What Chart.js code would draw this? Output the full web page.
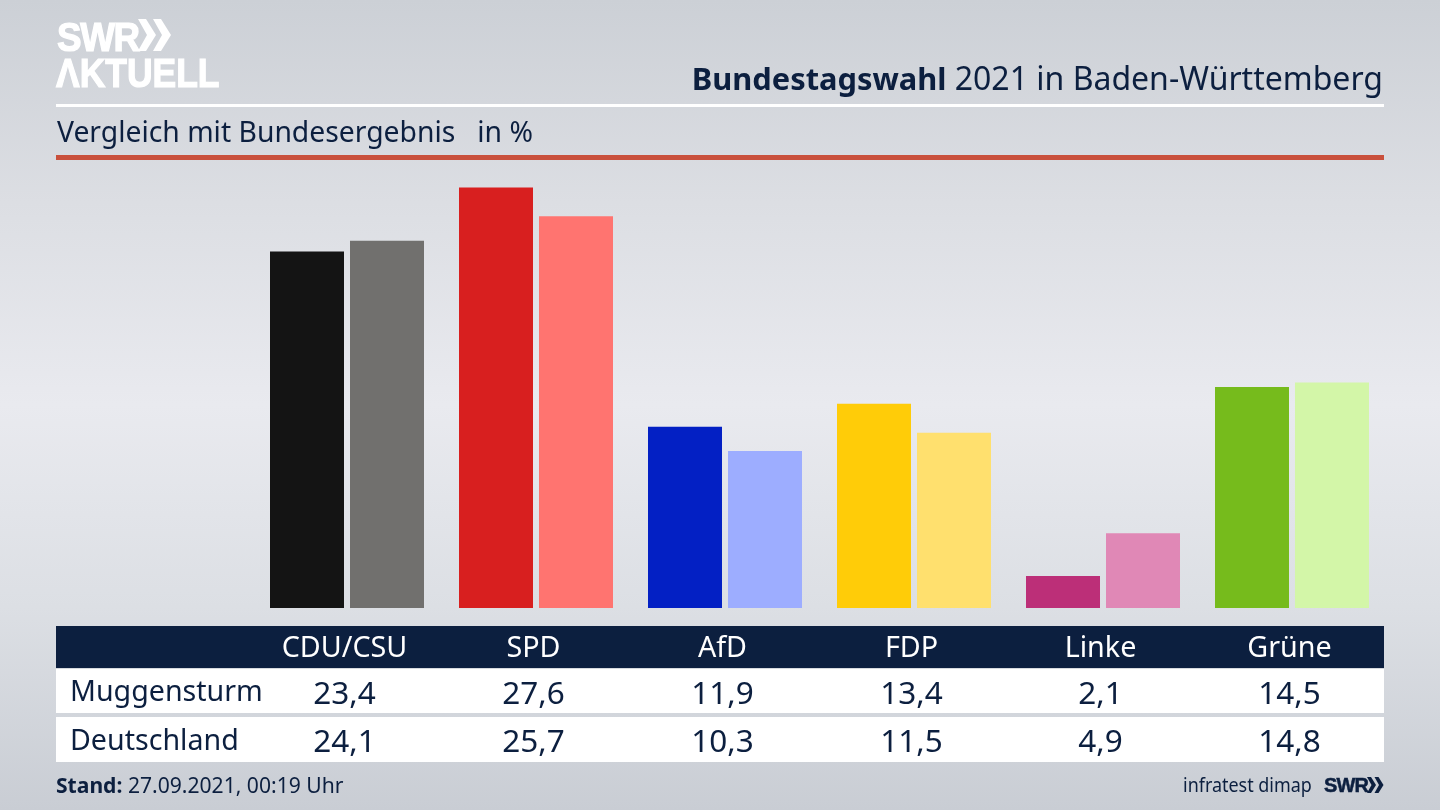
<!DOCTYPE html>
<html lang="de">
<head>
<meta charset="UTF-8">
<title>Bundestagswahl 2021 in Baden-Württemberg</title>
<script src="https://cdn.jsdelivr.net/npm/chart.js"></script>
<style>
  html, body { margin: 0; padding: 0; }
  body {
    width: 1440px; height: 810px; overflow: hidden; position: relative;
    font-family: "Noto Sans", sans-serif; color: #0c1f3f;
    background: linear-gradient(to bottom, #ccd0d6 0%, #dcdee3 25%, #e9eaef 50%, #dcdfe4 75%, #c9cdd4 100%);
  }
  #myChart { position: absolute; left: 0; top: 0; }
  .abs { position: absolute; white-space: nowrap; }
  .logo { color: #fff; font-family: "Liberation Sans", sans-serif; font-weight: bold; line-height: 1; -webkit-text-stroke: 1.2px #fff; transform-origin: left top; }
  #title { right: 57px; top: 57px; font-size: 32px; line-height: 42px; }
  #title b { font-size: 30.8px; }
  #subtitle { left: 57px; top: 112px; font-size: 28.3px; line-height: 38px; }
  #rule1 { left: 56px; top: 104px; width: 1328px; height: 3px; background: #fff; }
  #rule2 { left: 56px; top: 155px; width: 1328px; height: 5px; background: #c9503c; }
  .band { position: absolute; left: 56px; width: 1328px; }
  .cell { position: absolute; transform: translateX(-50%); white-space: nowrap; font-size: 28.7px; }
  .rowname { position: absolute; left: 70px; font-size: 28.6px; white-space: nowrap; }
  #stand { left: 56px; top: 771px; font-size: 21.1px; line-height: 28px; }
  #source { left: 1183px; top: 771px; font-size: 19.5px; line-height: 28px; transform: scaleX(0.92); transform-origin: left top; }
</style>
</head>
<body>
  <canvas id="myChart" width="1440" height="810"></canvas>

  <div class="abs logo" style="left:57px;top:17px;font-size:40px;letter-spacing:-1.5px;transform:scaleX(0.92);">SWR</div>
  <svg class="abs" style="left:138px;top:19px;" width="34" height="33" viewBox="0 0 34 33">
    <polygon fill="#fff" points="0,0 8,0 18,16 8,32 0,32 9,16"/>
    <polygon fill="#fff" points="15,0 23,0 33,16 23,32 15,32 24,16"/>
  </svg>
  <div class="abs logo" style="left:56px;top:53px;font-size:41px;transform:scaleX(0.865);">ΛKTUELL</div>

  <div class="abs" id="title"><b>Bundestagswahl</b> 2021 in Baden-Württemberg</div>
  <div class="abs" id="rule1"></div>
  <div class="abs" id="subtitle">Vergleich mit Bundesergebnis &nbsp; in %</div>
  <div class="abs" id="rule2"></div>

  <div class="band" style="top:626px;height:42px;background:#0c1f3f;"></div>
  <div class="band" style="top:669px;height:44px;background:#fff;"></div>
  <div class="band" style="top:717px;height:45px;background:#fff;"></div>
  <div id="tableText"></div>

  <div class="abs" id="stand"><b>Stand:</b> 27.09.2021, 00:19 Uhr</div>
  <div class="abs" id="source">infratest dimap</div>
  <div class="abs" style="left:1324px;top:775px;font:bold 20px/20px 'Liberation Sans',sans-serif;letter-spacing:-0.8px;-webkit-text-stroke:0.5px #0c1f3f;">SWR</div>
  <svg class="abs" style="left:1367px;top:777px;" width="17" height="16" viewBox="0 0 17 16">
    <polygon fill="#0c1f3f" points="0,0 4,0 9,8 4,16 0,16 4.5,8"/>
    <polygon fill="#0c1f3f" points="7.5,0 11.5,0 16.5,8 11.5,16 7.5,16 12,8"/>
  </svg>

  <script>
    const parties = ['CDU/CSU', 'SPD', 'AfD', 'FDP', 'Linke', 'Grüne'];
    const muggensturm = [23.4, 27.6, 11.9, 13.4, 2.1, 14.5];
    const deutschland = [24.1, 25.7, 10.3, 11.5, 4.9, 14.8];
    const coloursLocal = ['#141414', '#d81f1f', '#0320c4', '#ffcc08', '#bc2f78', '#76bb1c'];
    const coloursFederal = ['#71706e', '#ff7470', '#9dadff', '#ffe06e', '#e088b6', '#d3f6a8'];

    const fmt = (v) => v.toFixed(1).replace('.', ',');

    // table below the bars, one column per party
    const columnX = [344.5, 533.5, 722.5, 911.5, 1100.5, 1289.5];
    let html = '<div class="rowname" style="top:670px;">Muggensturm</div>'
             + '<div class="rowname" style="top:719px;">Deutschland</div>';
    parties.forEach((name, i) => {
      const x = columnX[i];
      html += `<div class="cell" style="left:${x}px;top:626px;color:#fff;">${name}</div>`;
      html += `<div class="cell" style="left:${x}px;top:670px;font-size:31.5px;">${fmt(muggensturm[i])}</div>`;
      html += `<div class="cell" style="left:${x}px;top:718px;font-size:31.5px;">${fmt(deutschland[i])}</div>`;
    });
    document.getElementById('tableText').innerHTML = html;

    new Chart(document.getElementById('myChart'), {
      type: 'bar',
      data: {
        labels: parties,
        datasets: [
          { label: 'Muggensturm', data: muggensturm, backgroundColor: coloursLocal },
          { label: 'Deutschland', data: deutschland, backgroundColor: coloursFederal }
        ]
      },
      options: {
        responsive: false,
        animation: false,
        events: [],
        layout: { padding: { left: 252.5, right: 53.5, top: 150.8, bottom: 202 } },
        datasets: { bar: { categoryPercentage: 160 / 189, barPercentage: 74 / 80 } },
        plugins: { legend: { display: false }, tooltip: { enabled: false } },
        scales: {
          x: { display: false },
          y: { display: false, min: 0, max: 30 }
        }
      }
    });
  </script>
</body>
</html>
